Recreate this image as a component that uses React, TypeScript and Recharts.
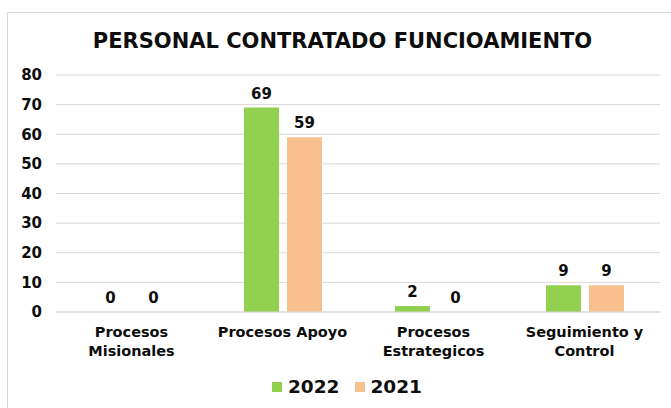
import React from 'react';
import {
  Bar,
  BarChart,
  CartesianGrid,
  LabelList,
  Legend,
  XAxis,
  YAxis,
} from 'recharts';

const categories = [
  'Procesos Misionales',
  'Procesos Apoyo',
  'Procesos Estrategicos',
  'Seguimiento y Control',
];
const values2022 = [0, 69, 2, 9];
const values2021 = [0, 59, 0, 9];
const yTicks = [0, 10, 20, 30, 40, 50, 60, 70, 80];
const seriesOrder = ['2022', '2021'];

const data = categories.map((name, i) => ({
  name,
  y2022: values2022[i],
  y2021: values2021[i],
}));

const FONT = '"DejaVu Sans", Verdana, sans-serif';
const GREEN = '#92D050';
const PEACH = '#F8C08E';
const INK = '#0D0D0D';

function splitLabel(label: string): string[] {
  if (label.length <= 15) return [label];
  const cut = label.lastIndexOf(' ');
  return [label.slice(0, cut), label.slice(cut + 1)];
}

function CategoryTick({ x, y, payload }: any) {
  const lines = splitLabel(payload.value);
  return (
    <text
      x={x}
      y={y + 5}
      textAnchor="middle"
      fill={INK}
      fontSize={14.5}
      fontWeight="bold"
      fontFamily={FONT}
    >
      {lines.map((l, i) => (
        <tspan key={i} x={x} dy={i === 0 ? '0.85em' : '1.3em'}>
          {l}
        </tspan>
      ))}
    </text>
  );
}

function LegendBox({ payload }: any) {
  const items = [...payload].sort(
    (a: any, b: any) => seriesOrder.indexOf(a.value) - seriesOrder.indexOf(b.value)
  );
  return (
    <div
      style={{
        display: 'flex',
        justifyContent: 'center',
        alignItems: 'center',
        gap: 15,
        fontFamily: FONT,
        fontWeight: 'bold',
        fontSize: 18.5,
        color: INK,
        paddingTop: 4,
        paddingLeft: 34,
      }}
    >
      {items.map((p: any) => (
        <span key={p.value} style={{ display: 'flex', alignItems: 'center', gap: 6 }}>
          <span style={{ width: 10, height: 10, background: p.color, display: 'inline-block' }} />
          {p.value}
        </span>
      ))}
    </div>
  );
}

const zeroSafe = (v: any) => (v === 0 ? 0.01 : 0);

export default function App() {
  return (
    <div style={{ position: 'absolute', left: 0, top: 0, width: 671, height: 408, background: '#fff', overflow: 'hidden' }}>
      <div
        style={{
          position: 'absolute',
          left: 7,
          top: 12,
          width: 680,
          height: 420,
          border: '1px solid #D9D9D9',
          boxSizing: 'border-box',
        }}
      />
      <div
        style={{
          position: 'absolute',
          left: 7,
          top: 29,
          width: 671,
          textAlign: 'center',
          fontFamily: FONT,
          fontWeight: 'bold',
          fontSize: 21,
          color: INK,
        }}
      >
        PERSONAL CONTRATADO FUNCIOAMIENTO
      </div>
      <div style={{ position: 'absolute', left: 0, top: 0 }}>
        <BarChart
          width={671}
          height={408}
          data={data}
          margin={{ top: 75, right: 11, left: 0, bottom: 0 }}
          barSize={35}
          barGap={8}
        >
          <CartesianGrid stroke="#D9D9D9" vertical={false} />
          <XAxis
            dataKey="name"
            tick={<CategoryTick />}
            interval={0}
            height={60}
            tickLine={false}
            axisLine={{ stroke: '#D9D9D9' }}
          />
          <YAxis
            width={56}
            domain={[0, 80]}
            ticks={yTicks}
            tickLine={false}
            axisLine={false}
            tickSize={0}
            tickMargin={14}
            tick={{ fill: INK, fontSize: 15, fontWeight: 'bold', fontFamily: FONT }}
          />
          <Legend verticalAlign="bottom" height={36} content={<LegendBox />} />
          <Bar dataKey="y2022" name="2022" fill={GREEN} minPointSize={zeroSafe} isAnimationActive={false}>
            <LabelList
              dataKey="y2022"
              position="top"
              offset={9}
              fill={INK}
              fontSize={15}
              fontWeight="bold"
              fontFamily={FONT}
            />
          </Bar>
          <Bar dataKey="y2021" name="2021" fill={PEACH} minPointSize={zeroSafe} isAnimationActive={false}>
            <LabelList
              dataKey="y2021"
              position="top"
              offset={9}
              fill={INK}
              fontSize={15}
              fontWeight="bold"
              fontFamily={FONT}
            />
          </Bar>
        </BarChart>
      </div>
    </div>
  );
}
